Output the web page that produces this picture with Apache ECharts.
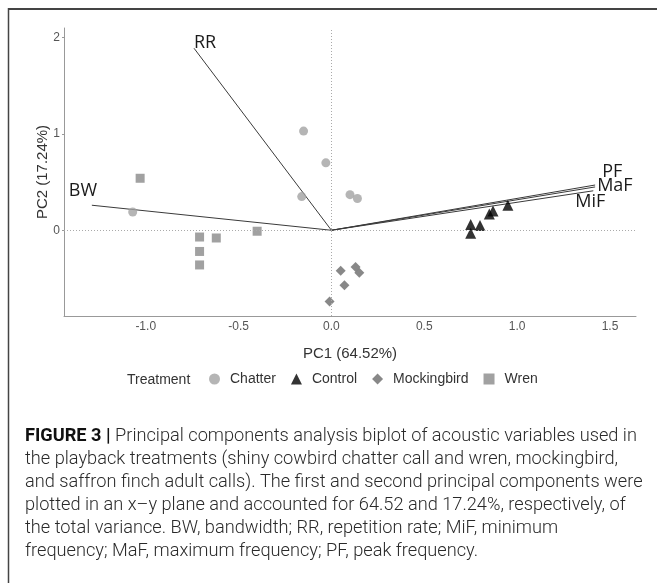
<!DOCTYPE html>
<html><head><meta charset="utf-8">
<script src="https://cdn.jsdelivr.net/npm/echarts@6/dist/echarts.min.js"></script>
<style>html,body{margin:0;padding:0;background:#fff}#c{width:657px;height:585px}</style>
</head><body><div id="c"></div>
<script>
// ---- data ----
var chatter = [[-0.15,1.03],[-0.03,0.70],[-0.16,0.35],[-1.07,0.19],[0.10,0.37],[0.14,0.33]];
var control = [[0.75,0.06],[0.80,0.05],[0.75,-0.03],[0.85,0.17],[0.87,0.20],[0.95,0.26]];
var mockingbird = [[0.05,-0.42],[0.13,-0.38],[0.15,-0.44],[0.07,-0.57],[-0.01,-0.74]];
var wren = [[-1.03,0.54],[-0.71,-0.07],[-0.62,-0.08],[-0.71,-0.22],[-0.71,-0.36],[-0.40,-0.01]];
var vectorNames = ['RR','BW','PF','MaF','MiF'];
var vectorX = [-0.74,-1.29,1.42,1.42,1.41];
var vectorY = [1.89,0.26,0.47,0.45,0.41];
var xTicks = [-1.0,-0.5,0,0.5,1.0,1.5];
var yTicks = [0,1,2];
var treatments = ['Chatter','Control','Mockingbird','Wren'];
var captionLines = [
 'Principal components analysis biplot of acoustic variables used in',
 'the playback treatments (shiny cowbird chatter call and wren, mockingbird,',
 'and saffron finch adult calls). The first and second principal components were',
 'plotted in an x\u2013y plane and accounted for 64.52 and 17.24%, respectively, of',
 'the total variance. BW, bandwidth; RR, repetition rate; MiF, minimum',
 'frequency; MaF, maximum frequency; PF, peak frequency.'
];

// ---- styles ----
var labelOffsets = {RR:[0,-5],BW:[-23,-14],PF:[7,-13],MaF:[2,-1],MiF:[-18,11]};
var SANS = '"Liberation Sans",Arial,sans-serif';

var chart = echarts.init(document.getElementById('c'));
var series = [];
vectorNames.forEach(function(n,i){
  series.push({
    type:'line', name:'v'+n, data:[[0,0],[vectorX[i],vectorY[i]]],
    showSymbol:false, symbol:'none', silent:true, z:1,
    lineStyle:{color:'#3a3a3a',width:1},
    endLabel:{show:true, formatter:n, distance:0, align:'left', verticalAlign:'middle',
      offset:labelOffsets[n], fontFamily:'"Open Sans",sans-serif', fontSize:18, color:'#1a1a1a'}
  });
});
series.push({type:'scatter',name:'Chatter',data:chatter,symbol:'circle',symbolSize:9,itemStyle:{color:'#a2a2a2'},z:3,
  markLine:{silent:true,symbol:'none',label:{show:false},lineStyle:{color:'#aaa',type:[1,2],width:1},
    data:[{xAxis:0},{yAxis:0}]}});
series.push({type:'scatter',name:'Control',data:control,symbol:'triangle',symbolSize:11,itemStyle:{color:'#000'},z:3});
series.push({type:'scatter',name:'Mockingbird',data:mockingbird,symbol:'diamond',symbolSize:10,itemStyle:{color:'#6a6a6a'},z:3});
series.push({type:'scatter',name:'Wren',data:wren,symbol:'rect',symbolSize:9,itemStyle:{color:'#8a8a8a'},z:3});

var graphics = [
  {type:'line',shape:{x1:8,y1:9,x2:657,y2:9},style:{stroke:'#444',lineWidth:2}},
  {type:'line',shape:{x1:8.5,y1:8,x2:8.5,y2:583},style:{stroke:'#444',lineWidth:1.5}},
  {type:'text',left:127,top:373,style:{text:'Treatment',font:'14px '+SANS,fill:'#333'}}
];
captionLines.forEach(function(t,i){
  graphics.push({type:'text',left:25,top:427+i*23,style:{
    text:(i===0?'{b|FIGURE 3 |} ':'')+t,
    font:'300 18.2px Roboto,sans-serif', fill:'#2a2a2a',
    rich:{b:{fontFamily:'Roboto',fontWeight:'bold',fontSize:18.2,fill:'#111'}}
  }});
});

chart.setOption({
  animation:false,
  grid:{left:64,top:28,right:21,bottom:269},
  xAxis:{type:'value',min:-1.44,max:1.64,
    axisLine:{show:true,onZero:false,lineStyle:{color:'#999'}},
    axisTick:{show:false},splitLine:{show:false},
    axisLabel:{customValues:xTicks,formatter:function(v){return v.toFixed(1);},color:'#555',fontSize:12,margin:5,fontFamily:SANS},
    name:'PC1 (64.52%)',nameLocation:'middle',nameGap:30,nameMoveOverlap:false,
    nameTextStyle:{fontFamily:SANS,fontSize:15,color:'#333'}},
  yAxis:{type:'value',min:-0.89,max:2.1,
    axisLine:{show:true,onZero:false,lineStyle:{color:'#999'}},
    axisTick:{show:true,customValues:yTicks,length:2,lineStyle:{color:'#999'}},splitLine:{show:false},
    axisLabel:{customValues:yTicks,formatter:function(v){return String(Math.round(v));},color:'#555',fontSize:12,margin:4,fontFamily:SANS},
    name:'PC2 (17.24%)',nameLocation:'middle',nameGap:14,nameMoveOverlap:false,
    nameTextStyle:{fontFamily:SANS,fontSize:15,color:'#333'}},
  legend:{data:treatments,left:204,top:367,itemWidth:11,itemHeight:11,itemGap:15,
    textStyle:{fontFamily:SANS,fontSize:14,color:'#333',padding:[0,0,0,5]},
    selectedMode:false},
  graphic:graphics,
  series:series
});
</script></body></html>
